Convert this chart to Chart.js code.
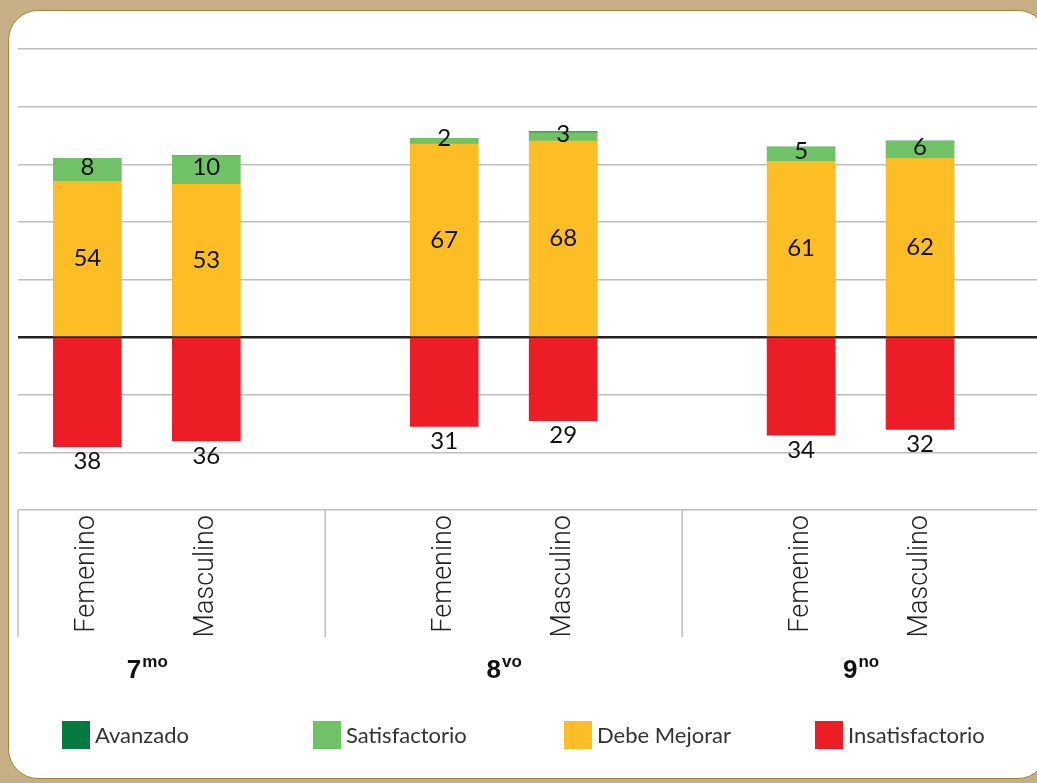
<!DOCTYPE html>
<html>
<head>
<meta charset="utf-8">
<script src="https://cdn.jsdelivr.net/npm/chart.js@4.4.0/dist/chart.umd.min.js"></script>
<style>
html, body { margin: 0; padding: 0; width: 1037px; height: 783px; overflow: hidden; background: #c6af84; }
#panel { position: absolute; left: 8px; top: 10px; width: 1038px; height: 767px; background: #fff;
         border: 1px solid #a3853a; border-radius: 30px; }
#chart { position: absolute; left: 0; top: 0; }
</style>
</head>
<body>
<div id="panel"></div>
<canvas id="chart" width="1037" height="783"></canvas>
<script>
// grades and genders (categories)
var grades = ['7', '8', '9'];
var gradeSuffixes = ['mo', 'vo', 'no'];
var genders = ['Femenino', 'Masculino'];

// percentages, one per bar: 7mo F, 7mo M, 8vo F, 8vo M, 9no F, 9no M
var avanzado = [0, 0, 0, 0.3, 0, 0];
var satisfactorio = [8, 10, 2, 3, 5, 6];
var debeMejorar = [54, 53, 67, 68, 61, 62];
var insatisfactorio = [38, 36, 31, 29, 34, 32];

var legendOrder = ['Avanzado', 'Satisfactorio', 'Debe Mejorar', 'Insatisfactorio'];

var yMin = -60, yMax = 100, yStep = 20;

// each grade takes one slot per gender plus an empty slot between grades
var slotsPerGrade = genders.length + 1;
var slots = [], slotLabels = {};
grades.forEach(function(g, gi) {
  genders.forEach(function(name, k) {
    var s = gi * slotsPerGrade + k;
    slots.push(s);
    slotLabels[s] = name;
  });
});

function points(values, sign) {
  return values.map(function(v, i) { return { x: slots[i], y: sign * v }; });
}

var datasets = [
  { label: 'Debe Mejorar', data: points(debeMejorar, 1), backgroundColor: '#fdbd24', showValues: true, labelShift: 0 },
  { label: 'Satisfactorio', data: points(satisfactorio, 1), backgroundColor: '#70c267', showValues: true, labelShift: -3 },
  { label: 'Avanzado', data: points(avanzado, 1), backgroundColor: '#047a3e', showValues: false },
  { label: 'Insatisfactorio', data: points(insatisfactorio, -1), backgroundColor: '#ed1d25', showValues: true }
];

var segmentLabels = {
  id: 'segmentLabels',
  afterDatasetsDraw: function(chart) {
    var ctx = chart.ctx;
    ctx.save();
    ctx.font = '400 24px Lato';
    ctx.fillStyle = '#111';
    ctx.textAlign = 'center';
    chart.data.datasets.forEach(function(ds, di) {
      if (!ds.showValues) return;
      chart.getDatasetMeta(di).data.forEach(function(bar, i) {
        var v = ds.data[i].y;
        if (v < 0) {
          ctx.textBaseline = 'top';
          ctx.fillText(String(-v), bar.x, bar.y + 3);
        } else {
          ctx.textBaseline = 'middle';
          ctx.fillText(String(v), bar.x, (bar.y + bar.base) / 2 + ds.labelShift);
        }
      });
    });
    ctx.restore();
  }
};

var gradeTable = {
  id: 'gradeTable',
  afterDraw: function(chart) {
    var ctx = chart.ctx, xs = chart.scales.x, area = chart.chartArea;
    ctx.save();
    // separators between grades
    ctx.strokeStyle = '#bdbdbd';
    ctx.lineWidth = 1.5;
    var bounds = [area.left];
    for (var g = 1; g < grades.length; g++) bounds.push(xs.getPixelForValue(g * slotsPerGrade - 1));
    bounds.forEach(function(bx) {
      ctx.beginPath();
      ctx.moveTo(bx, area.bottom);
      ctx.lineTo(bx, 637);
      ctx.stroke();
    });
    // grade names with superscript
    ctx.fillStyle = '#111';
    ctx.textAlign = 'left';
    ctx.textBaseline = 'alphabetic';
    grades.forEach(function(gr, gi) {
      var cx = xs.getPixelForValue(gi * slotsPerGrade + (genders.length - 1) / 2);
      ctx.font = 'bold 26px "Liberation Sans"';
      var w1 = ctx.measureText(gr).width;
      ctx.font = 'bold 17px "Liberation Sans"';
      var w2 = ctx.measureText(gradeSuffixes[gi]).width;
      var sx = cx - (w1 + w2) / 2;
      ctx.font = 'bold 26px "Liberation Sans"';
      ctx.fillText(gr, sx, 678);
      ctx.font = 'bold 17px "Liberation Sans"';
      ctx.fillText(gradeSuffixes[gi], sx + w1 + 1, 667);
    });
    // legend
    ctx.font = '400 22px Lato';
    ctx.textBaseline = 'middle';
    legendOrder.forEach(function(name, i) {
      var ds = chart.data.datasets.find(function(d) { return d.label === name; });
      var bx = 62 + i * 251;
      ctx.fillStyle = ds.backgroundColor;
      ctx.fillRect(bx, 721, 28, 28);
      ctx.fillStyle = '#333';
      ctx.fillText(name, bx + 33, 736);
    });
    ctx.restore();
  }
};

new Chart(document.getElementById('chart'), {
  type: 'bar',
  data: { datasets: datasets },
  plugins: [segmentLabels, gradeTable],
  options: {
    responsive: false,
    animation: false,
    barThickness: 68,
    layout: { padding: { left: 18, top: 49, right: 0, bottom: 0 } },
    plugins: { legend: { display: false }, tooltip: { enabled: false } },
    scales: {
      x: {
        type: 'linear',
        stacked: true,
        offset: false,
        min: -0.583,
        max: 7.983,
        grid: { display: false, drawTicks: false },
        border: { display: false },
        afterBuildTicks: function(scale) {
          scale.ticks = slots.map(function(s) { return { value: s }; });
        },
        afterFit: function(scale) { scale.height = 273; },
        ticks: {
          autoSkip: false,
          minRotation: 90,
          maxRotation: 90,
          padding: 5,
          color: '#222',
          font: { family: 'Roboto', weight: '300', size: 27 },
          callback: function(v) { return slotLabels[v] || ''; }
        }
      },
      y: {
        stacked: true,
        min: yMin,
        max: yMax,
        border: { display: false },
        afterFit: function(scale) { scale.width = 0; },
        ticks: { display: false, stepSize: yStep },
        grid: {
          drawTicks: false,
          color: function(c) { return c.tick.value === 0 ? '#222' : '#bfbfbf'; },
          lineWidth: function(c) { return c.tick.value === 0 ? 2.5 : 1.5; }
        }
      }
    }
  }
});
</script>
</body>
</html>
